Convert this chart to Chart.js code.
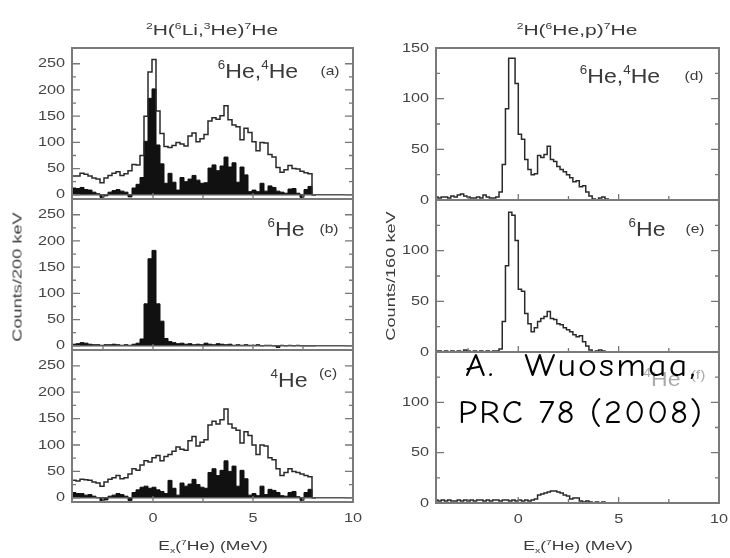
<!DOCTYPE html>
<html>
<head>
<meta charset="utf-8">
<script src="https://cdn.jsdelivr.net/npm/chart.js@4.4.1/dist/chart.umd.min.js"></script>
<style>
html, body { margin: 0; padding: 0; background: #fff; }
body { width: 730px; height: 558px; position: relative; overflow: hidden;
       font-family: "Liberation Sans", Arial, sans-serif; color: #3a3a3a; }
canvas { position: absolute; }
.t { position: absolute; white-space: nowrap; line-height: 1; transform-origin: 50% 50%; }
.t sup { font-size: .58em; position: relative; top: -.7em; vertical-align: baseline; line-height: 0; }
.t sub { font-size: .6em; position: relative; top: .35em; vertical-align: baseline; line-height: 0; }
.over { position: absolute; white-space: pre; line-height: 1; color: #000;
        font-family: "Comic Sans MS", "Comic Neue", "DejaVu Sans", sans-serif;
        font-size: 32px; letter-spacing: 2px; transform-origin: 0 0; }
</style>
</head>
<body>

<script>
// ---------- data ----------
// left column: 2H(6Li,3He)7He, 200 keV bins
const leftStart = -4.05;
const leftBin = 0.2;
// (a) 6He + 4He coincidences
const aOpen = [32,36,36,41,39,36,32,30,23,32, 37,41,44,37,40,46,58,57,75,150,
               234,258,160,117,92,90,94,100,97,93, 112,118,101,107,115,141,147,144,151,170,
               143,133,130,105,127,119,101,84,100,99, 77,72,52,43,48,56,50,49,45,42, 40];
const aFilled = [17,13,12,14,10,9,5,2,-5,-2, 5,8,10,7,5,-4,13,20,33,102,
                 184,202,95,59,22,41,24,9,33,25, 30,37,28,22,23,51,57,46,55,72,
                 53,61,24,53,38,6,9,6,22,7, 17,14,7,5,3,11,12,3,-5,10, 16];
// (b) 6He
const bFilled = [2,3,4,6,5,3,2,2,1,2, 2,3,2,1,2,1,3,5,13,80,
                 166,182,80,47,14,8,6,4,5,3, 4,2,3,2,5,3,2,4,3,2,
                 3,1,2,1,2,1,1,2,0,1, 1,0,-3,1,0,1,0,1,0,0, 0];
// (c) 4He
const cOpen = [30,33,32,35,34,33,30,28,22,30, 35,38,42,36,38,45,55,52,62,70,
               68,76,80,70,78,82,88,96,92,90, 108,116,98,105,110,138,145,140,148,168,
               140,132,128,104,125,118,100,82,100,98, 76,72,55,42,48,55,50,48,45,42, 40];
const cFilled = [15,10,8,8,5,6,3,0,-6,-4, 3,5,8,6,3,-5,10,15,20,22,
                 18,20,15,12,8,33,18,5,28,22, 26,35,25,20,18,48,55,42,52,70,
                 50,60,22,52,36,5,8,4,22,6, 16,14,10,4,3,10,12,2,-5,10, 16];

// right column: 2H(6He,p)7He, 160 keV bins
const rightStart = -4.16;
const rightBin = 0.16;
const dOpen = [3, 3,2,3,3,2,4,3,5,6,4, 3,2,2,3,2,5,3,2,2,3,
               8,35,90,140,140,115,65,60,40,30, 25,26,44,42,45,53,40,38,33,30,
               28,25,22,18,19,13,14,8,4,1, 0,2,3,1,0,0];
const eOpen = [1, 1,1,0,1,0,1,0,1,0,2, 1,0,1,0,1,0,1,0,1,1,
               3,30,85,138,135,110,62,60,38,28, 20,24,30,33,35,40,33,32,28,27,
               24,22,20,17,15,16,10,6,2,0, 1,2,1,0,0,0];
const fOpen = [3, 3,2,3,2,3,2,2,3,2,3, 2,3,2,3,3,2,3,2,3,3,
               2,3,3,2,3,2,3,2,3,2, 3,4,8,9,10,11,12,12,11,10,
               8,7,4,5,5,2,1,2,1,0, 1,0,1,0,0,0];

// ticks
const leftYLabels = [0, 50, 100, 150, 200, 250];
const leftYTicks = [0, 25, 50, 75, 100, 125, 150, 175, 200, 225, 250];
const rightYLabelsTop = [0, 50, 100, 150];
const rightYLabels = [0, 50, 100];
const rightYTicks = [25, 50, 75, 100, 125];
const xLabels = [0, 5, 10];
const xTicks = [-2.5, 0, 2.5, 5, 7.5];

// ---------- helpers ----------
function steps(values, start, bin){
    const pts = values.map((v, i) => ({x: start + i * bin, y: v}));
    pts.push({x: start + values.length * bin, y: 0});
    return pts;
}

const panelDecor = {
    id: 'panelDecor',
    afterDraw(chart, args, o){
        const {ctx, chartArea: a, scales: {x, y}} = chart;
        ctx.save();
        if(o.zero){
            const y0 = y.getPixelForValue(0);
            ctx.strokeStyle = '#555';
            ctx.lineWidth = 1.6;
            ctx.beginPath(); ctx.moveTo(a.left, y0); ctx.lineTo(a.right, y0); ctx.stroke();
        }
        ctx.strokeStyle = '#777';
        ctx.lineWidth = 1.3;
        o.yTicks.forEach(v => {
            const py = y.getPixelForValue(v);
            const len = v % 50 === 0 ? 8 : 4;
            ctx.beginPath();
            ctx.moveTo(a.left, py); ctx.lineTo(a.left + len, py);
            ctx.moveTo(a.right - len, py); ctx.lineTo(a.right, py);
            ctx.stroke();
        });
        xTicks.forEach(v => {
            const px = x.getPixelForValue(v);
            const len = v % 5 === 0 ? 6 : 4;
            ctx.beginPath(); ctx.moveTo(px, a.bottom); ctx.lineTo(px, a.bottom - len); ctx.stroke();
        });
        ctx.strokeStyle = '#7a7a7a';
        ctx.lineWidth = 2;
        ctx.strokeRect(a.left, a.top, a.right - a.left, a.bottom - a.top);

        ctx.fillStyle = '#444';
        ctx.font = '13px "Liberation Sans", Arial, sans-serif';
        ctx.textAlign = 'right';
        ctx.textBaseline = 'middle';
        o.yLabels.forEach(v => {
            ctx.save();
            ctx.translate(a.left - 7, y.getPixelForValue(v));
            ctx.scale(1.25, 1);
            ctx.fillText(String(v), 0, 0);
            ctx.restore();
        });
        if(o.xLabels){
            ctx.textAlign = 'center';
            xLabels.forEach(v => {
                ctx.save();
                ctx.translate(x.getPixelForValue(v), a.bottom + 16);
                ctx.scale(1.25, 1);
                ctx.fillText(String(v), 0, 0);
                ctx.restore();
            });
        }
        ctx.restore();
    }
};

const columns = {
    left:  {cx: 0,   plotL: 72,  plotR: 353, xMin: -4.05, start: leftStart,  bin: leftBin},
    right: {cx: 365, plotL: 436, plotR: 719, xMin: -4.1,  start: rightStart, bin: rightBin}
};

const panels = [
    {col: 'left', top: 48,  bottom: 199, yMin: -8, yMax: 280, zero: true,
     open: [aOpen], filled: [aFilled], yLabels: leftYLabels, yTicks: leftYTicks, last: false},
    {col: 'left', top: 199, bottom: 350, yMin: -8, yMax: 280, zero: true,
     open: [], filled: [bFilled], yLabels: leftYLabels, yTicks: leftYTicks, last: false},
    {col: 'left', top: 350, bottom: 502, yMin: -8, yMax: 280, zero: true,
     open: [cOpen], filled: [cFilled], yLabels: leftYLabels, yTicks: leftYTicks, last: true},
    {col: 'right', top: 48,  bottom: 200, yMin: 0, yMax: 150, zero: false,
     open: [dOpen], filled: [], yLabels: rightYLabelsTop, yTicks: rightYTicks, last: false},
    {col: 'right', top: 200, bottom: 352, yMin: 0, yMax: 150, zero: false,
     open: [eOpen], filled: [], yLabels: rightYLabels, yTicks: rightYTicks, last: false},
    {col: 'right', top: 352, bottom: 503, yMin: 0, yMax: 150, zero: false,
     open: [fOpen], filled: [], yLabels: rightYLabels, yTicks: rightYTicks, last: true}
];

panels.forEach(p => {
    const c = columns[p.col];
    const padTop = 12, padBottom = p.last ? 30 : 12;
    const canvas = document.createElement('canvas');
    canvas.width = 365;
    canvas.height = (p.bottom - p.top) + padTop + padBottom;
    canvas.style.left = c.cx + 'px';
    canvas.style.top = (p.top - padTop) + 'px';
    document.body.appendChild(canvas);

    const datasets = [];
    p.open.forEach(v => datasets.push({
        data: steps(v, c.start, c.bin), stepped: 'after', fill: false,
        borderColor: '#2a2a2a', borderWidth: 1.5, pointRadius: 0
    }));
    p.filled.forEach(v => datasets.push({
        data: steps(v, c.start, c.bin), stepped: 'after', fill: 'origin',
        borderColor: '#111', backgroundColor: '#111', borderWidth: 1, pointRadius: 0
    }));

    new Chart(canvas.getContext('2d'), {
        type: 'line',
        data: {datasets},
        options: {
            animation: false,
            responsive: false,
            devicePixelRatio: 1,
            events: [],
            layout: {padding: {left: c.plotL - c.cx, right: c.cx + 365 - c.plotR, top: padTop, bottom: padBottom}},
            scales: {
                x: {type: 'linear', min: c.xMin, max: 10, display: false},
                y: {type: 'linear', min: p.yMin, max: p.yMax, display: false}
            },
            plugins: {
                legend: {display: false},
                tooltip: {enabled: false},
                panelDecor: {zero: p.zero, yLabels: p.yLabels, yTicks: p.yTicks, xLabels: p.last}
            }
        },
        plugins: [panelDecor]
    });
});

// ---------- text ----------
function text(html, x, y, size, sx, extra){
    const d = document.createElement('div');
    d.className = 't';
    d.innerHTML = html;
    d.style.left = x + 'px';
    d.style.top = y + 'px';
    d.style.fontSize = size + 'px';
    d.style.transform = 'translate(-50%,-50%) ' + (extra || '') + ' scaleX(' + sx + ')';
    document.body.appendChild(d);
    return d;
}

text('<sup>2</sup>H(<sup>6</sup>Li,<sup>3</sup>He)<sup>7</sup>He', 212, 29, 15, 1.4);
text('<sup>2</sup>H(<sup>6</sup>He,p)<sup>7</sup>He', 577, 29, 15, 1.4);

text('<sup>6</sup>He,<sup>4</sup>He', 258, 70, 21, 1.1);
text('(a)', 330, 70, 13, 1.2);
text('<sup>6</sup>He', 286, 228, 21, 1.1);
text('(b)', 329, 228, 13, 1.2);
text('<sup>4</sup>He', 289, 379, 21, 1.1);
text('(c)', 328, 372, 13, 1.2);

text('<sup>6</sup>He,<sup>4</sup>He', 620, 75, 21, 1.1);
text('(d)', 694, 75, 13, 1.2);
text('<sup>6</sup>He', 647, 228, 21, 1.1);
text('(e)', 695, 228, 13, 1.2);
const fl = text('<sup>4</sup>He', 662, 378, 21, 1.1);
fl.style.color = '#aaa';
const ff = text('(f)', 698, 374, 13, 1.2);
ff.style.color = '#aaa';

text('E<sub>x</sub>(<sup>7</sup>He) (MeV)', 213, 545, 13, 1.35);
text('E<sub>x</sub>(<sup>7</sup>He) (MeV)', 578, 545, 13, 1.35);

text('Counts/200 keV', 17, 277, 13, 1.4, 'rotate(-90deg)');
text('Counts/160 keV', 390, 276, 13, 1.4, 'rotate(-90deg)');

// overlay note
function over(str, x, y, sx){
    const d = document.createElement('div');
    d.className = 'over';
    d.textContent = str;
    d.style.left = x + 'px';
    d.style.top = y + 'px';
    d.style.transform = 'scaleX(' + sx + ')';
    document.body.appendChild(d);
}
over('A.  Wuosmaa,', 465, 350, 1.12);
over('PRC 78 (2008)', 458, 397, 1.07);
</script>
</body>
</html>
